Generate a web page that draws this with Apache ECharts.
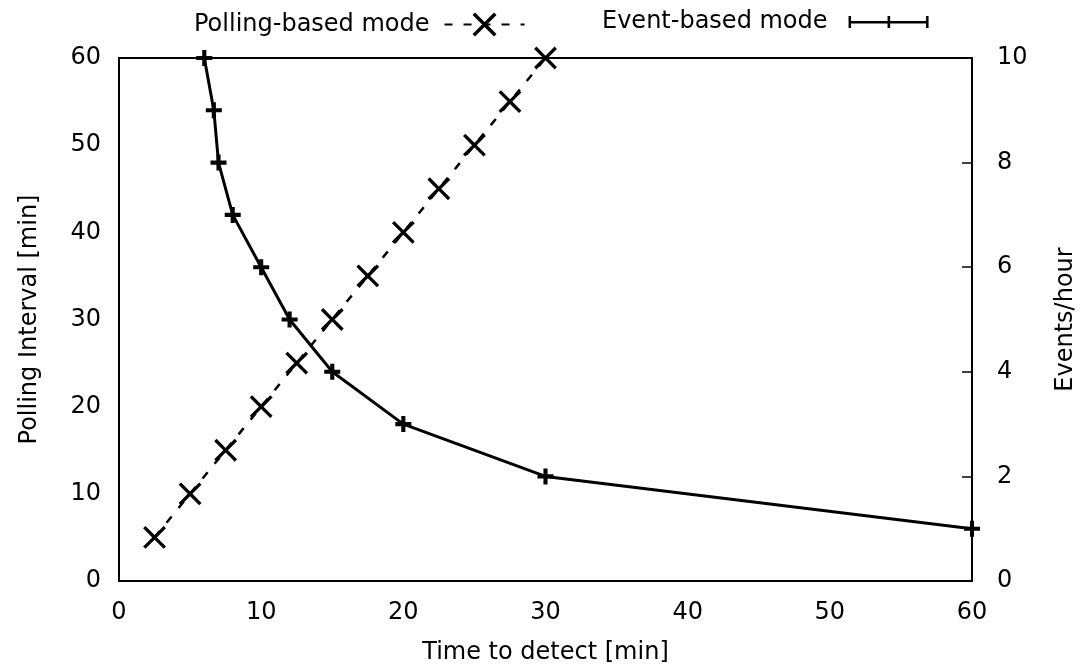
<!DOCTYPE html>
<html>
<head>
<meta charset="utf-8">
<script src="https://cdn.jsdelivr.net/npm/echarts@6/dist/echarts.min.js"></script>
<style>
html,body{margin:0;padding:0;background:#fff;}
#c{width:1086px;height:670px;}
</style>
</head>
<body>
<div id="c"></div>
<script>
// Polling-based mode: polling interval [min] vs time to detect [min]
const pollingDetect = [2.5, 5, 7.5, 10, 12.5, 15, 17.5, 20, 22.5, 25, 27.5, 30];
const pollingInterval = [5, 10, 15, 20, 25, 30, 35, 40, 45, 50, 55, 60];
// Event-based mode: events/hour vs time to detect [min]
const eventDetect = [6, 6.67, 7, 8, 10, 12, 15, 20, 30, 60];
const eventsPerHour = [10, 9, 8, 7, 6, 5, 4, 3, 2, 1];
// Tick settings
const xTicks = {min: 0, max: 60, interval: 10};
const leftTicks = {min: 0, max: 60, interval: 10};
const rightTicks = {min: 0, max: 10, interval: 2};

const FONT = 'DejaVu Sans';
const FS = 24;
const plusPath = 'path://M-1.8,-7 h3.6 v5.2 h5.2 v3.6 h-5.2 v5.2 h-3.6 v-5.2 h-5.2 v-3.6 h5.2 z';
const crossPath = 'path://M-1.6,-14 h3.2 v12.4 h12.4 v3.2 h-12.4 v12.4 h-3.2 v-12.4 h-12.4 v-3.2 h12.4 z';
const errIcon = 'path://M0,0 h2.5 v12 h-2.5 z M0,5 h80 v2.4 h-80 z M77.5,0 h2.5 v12 h-2.5 z M39,0 h2.6 v12 h-2.6 z';

const chart = echarts.init(document.getElementById('c'), null, {renderer: 'canvas'});
chart.setOption({
  animation: false,
  backgroundColor: '#fff',
  textStyle: {fontFamily: FONT, color: '#000'},
  grid: {left: 119, right: 108, top: 58, bottom: 87, show: true, borderColor: '#000', borderWidth: 2, backgroundColor: 'transparent'},
  legend: [
    {
      data: ['Polling-based mode'], left: 189, top: -2, align: 'right',
      itemWidth: 80, itemHeight: 38, itemGap: 10,
      textStyle: {fontFamily: FONT, fontSize: FS, color: '#000', padding: [0, 10, 0, 0]}
    },
    {
      data: [{name: 'Event-based mode', icon: errIcon}], left: 597, top: 5, align: 'right',
      itemWidth: 80, itemHeight: 12,
      textStyle: {fontFamily: FONT, fontSize: FS, color: '#000', padding: [0, 16, 0, 0]}
    }
  ],
  xAxis: {
    type: 'value', min: xTicks.min, max: xTicks.max, interval: xTicks.interval,
    name: 'Time to detect [min]', nameLocation: 'middle', nameGap: 60,
    nameTextStyle: {fontFamily: FONT, fontSize: FS, color: '#000'},
    axisLine: {show: false}, axisTick: {show: false}, splitLine: {show: false},
    axisLabel: {fontFamily: FONT, fontSize: FS, color: '#000', margin: 20}
  },
  yAxis: [
    {
      type: 'value', position: 'left', min: leftTicks.min, max: leftTicks.max, interval: leftTicks.interval,
      name: 'Polling Interval [min]', nameLocation: 'middle', nameGap: 77,
      nameTextStyle: {fontFamily: FONT, fontSize: FS, color: '#000'},
      axisLine: {show: false}, splitLine: {show: false},
      axisTick: {show: false},
      axisLabel: {fontFamily: FONT, fontSize: FS, color: '#000', margin: 18}
    },
    {
      type: 'value', position: 'right', min: rightTicks.min, max: rightTicks.max, interval: rightTicks.interval,
      name: 'Events/hour', nameLocation: 'middle', nameGap: 82,
      nameTextStyle: {fontFamily: FONT, fontSize: FS, color: '#000'},
      axisLine: {show: false}, splitLine: {show: false},
      axisTick: {show: true, inside: true, length: 10, lineStyle: {color: '#000', width: 1.5}},
      axisLabel: {fontFamily: FONT, fontSize: FS, color: '#000', margin: 25}
    }
  ],
  series: [
    {
      name: 'Polling-based mode', type: 'line', yAxisIndex: 0,
      data: pollingDetect.map((x, i) => [x, pollingInterval[i]]),
      symbol: crossPath, symbolSize: 29, symbolRotate: 45,
      itemStyle: {color: '#000'},
      lineStyle: {color: '#000', width: 2.5, type: [8, 11]},
      z: 2
    },
    {
      name: 'Event-based mode', type: 'line', yAxisIndex: 1,
      data: eventDetect.map((x, i) => [x, eventsPerHour[i]]),
      symbol: plusPath, symbolSize: 16,
      itemStyle: {color: '#000'},
      lineStyle: {color: '#000', width: 3},
      z: 3
    }
  ]
});
</script>
</body>
</html>
